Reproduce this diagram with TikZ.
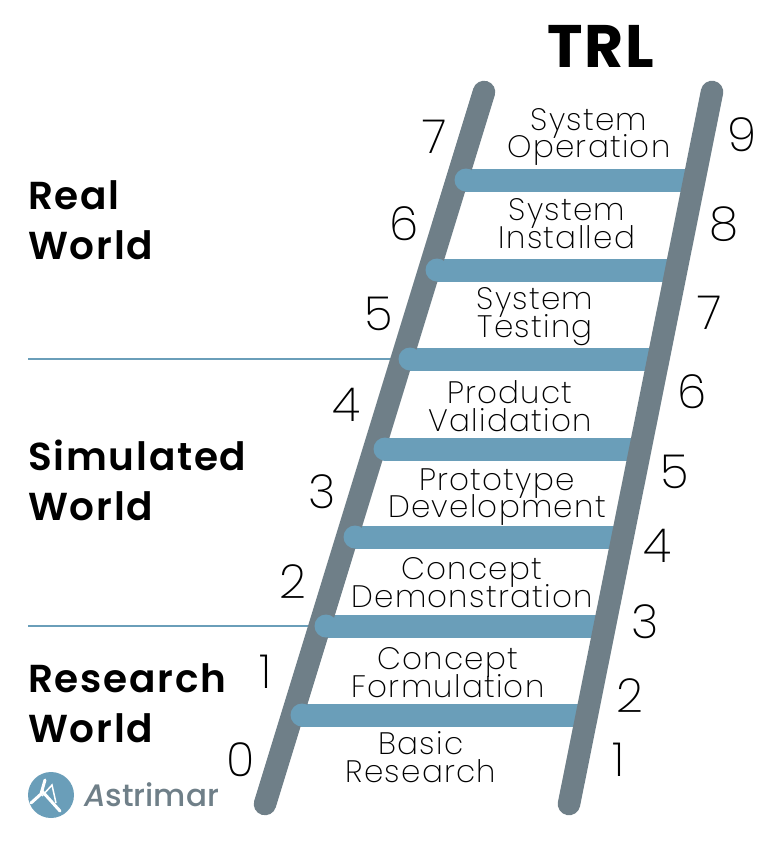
\documentclass[tikz,border=0pt]{standalone}
\usepackage{fontspec}
\setmainfont{Poppins}
\newfontfamily\lightfont[LetterSpace=4]{Poppins ExtraLight}
\newfontfamily\digitfont{Poppins ExtraLight}
\newfontfamily\heavyfont[LetterSpace=4.5]{Poppins SemiBold}
\newfontfamily\titlefont[LetterSpace=2.5]{Poppins Bold}
\newfontfamily\logofont{Poppins Medium}
\newcommand\stepfont{\lightfont\fontsize{31}{27.8}\selectfont\lineskiplimit-100pt\relax}
\newcommand\worldfont{\heavyfont\fontsize{39}{50}\selectfont\lineskiplimit-100pt\relax}
\definecolor{railgrey}{HTML}{6F7F88}
\definecolor{rungblue}{HTML}{6A9EB9}
\begin{document}
\begin{tikzpicture}[x=1pt,y=-1pt]

    \tikzset{
      rail/.style={
        color=railgrey,
        line width=22.5pt,
        line cap=round,
      },
      rung/.style={
        color=rungblue,
        line width=23pt,
        line cap=round,
      },
      border/.style={
        color=rungblue,
        line width=1.5pt,
      },
      step label/.style={
        font=\stepfont,
        align=center,
        inner sep=0pt,
        text=black,
      },
      world label/.style={
        font=\worldfont,
        align=left,
        anchor=west,
        inner sep=0pt,
      },
      digit/.style={
        font=\digitfont\fontsize{47}{47}\selectfont,
        inner sep=0pt,
        text=black,
      },
    }

	\useasboundingbox (0,0) rectangle (784,849);

	\coordinate (lefttop) at (484,92);
	\coordinate (leftbottom) at (265,804);
	\coordinate (righttop) at (712,92);
	\coordinate (rightbottom) at (569,804);

	\coordinate (rung7a) at (466,180);
	\coordinate (rung7b) at (690,180);
	\coordinate (rung6a) at (437,270);
	\coordinate (rung6b) at (672,270);
	\coordinate (rung5a) at (410,359);
	\coordinate (rung5b) at (655,359);
	\coordinate (rung4a) at (385,449);
	\coordinate (rung4b) at (637,449);
	\coordinate (rung3a) at (355,537);
	\coordinate (rung3b) at (619,537);
	\coordinate (rung2a) at (326,626);
	\coordinate (rung2b) at (601,626);
	\coordinate (rung1a) at (302,715);
	\coordinate (rung1b) at (583,715);

	\coordinate (upperstart) at (28,359);
	\coordinate (lowerstart) at (28,626);

	\draw[border] (upperstart)--(rung5a);
	\draw[border] (lowerstart)--(rung2a);

	\draw[rung] (rung7a)--(rung7b);
	\draw[rung] (rung6a)--(rung6b);
	\draw[rung] (rung5a)--(rung5b);
	\draw[rung] (rung4a)--(rung4b);
	\draw[rung] (rung3a)--(rung3b);
	\draw[rung] (rung2a)--(rung2b);
	\draw[rung] (rung1a)--(rung1b);

	\draw[rail] (lefttop)--(leftbottom);
	\draw[rail] (righttop)--(rightbottom);

	% rungs start in front of the left rail
	\fill[rungblue] (rung7a) circle (11.5);
	\fill[rungblue] (rung6a) circle (11.5);
	\fill[rungblue] (rung5a) circle (11.5);
	\fill[rungblue] (rung4a) circle (11.5);
	\fill[rungblue] (rung3a) circle (11.5);
	\fill[rungblue] (rung2a) circle (11.5);
	\fill[rungblue] (rung1a) circle (11.5);

	\node[font=\titlefont\fontsize{60}{60}\selectfont,inner sep=0pt] (title) at (601,46) {TRL};

	\node[world label] (real) at (28,220) {Real\\World};
	\node[world label] (simulated) at (28,480) {Simulated\\World};
	\node[world label] (research) at (28,703) {Research\\World};

	\node[step label] (operation) at (589,137) {System\\Operation};
	\node[step label] (installed) at (567,224) {System\\Installed};
	\node[step label] (testing) at (535,317) {System\\Testing};
	\node[step label] (validation) at (510,406) {Product\\Validation};
	\node[step label] (development) at (497,497) {Prototype\\Development};
	\node[step label] (demonstration) at (472,583) {Concept\\Demonstration};
	\node[step label] (formulation) at (448,673) {Concept\\Formulation};
	\node[step label] (basic) at (421,757) {Basic\\Research};

	\node[digit] (left0) at (241,760) {0};
	\node[digit] (left1) at (266,672) {1};
	\node[digit] (left2) at (293,582) {2};
	\node[digit] (left3) at (322,492) {3};
	\node[digit] (left4) at (346,405) {4};
	\node[digit] (left5) at (379,314) {5};
	\node[digit] (left6) at (404,224) {6};
	\node[digit] (left7) at (435,137) {7};

	\node[digit] (right1) at (619,760) {1};
	\node[digit] (right2) at (630,696) {2};
	\node[digit] (right3) at (645,622) {3};
	\node[digit] (right4) at (657,546) {4};
	\node[digit] (right5) at (675,472) {5};
	\node[digit] (right6) at (692,392) {6};
	\node[digit] (right7) at (710,313) {7};
	\node[digit] (right8) at (724,224) {8};
	\node[digit] (right9) at (742,135) {9};

	\fill[rungblue] (51,795) circle (23);
	\draw[white,line width=3pt,line cap=round] (45,780)--(41,794)--(31,803);
	\draw[white,line width=3pt,line cap=round] (42,791)--(60,811);
	\draw[white,line width=1.5pt] (42,796)--(52,785)--(56,803);
	\node[font=\logofont\fontsize{31}{31}\selectfont,text=railgrey,inner sep=0pt,anchor=west] (astrimar) at (84,795) {\textit{A}strimar};

\end{tikzpicture}
\end{document}
